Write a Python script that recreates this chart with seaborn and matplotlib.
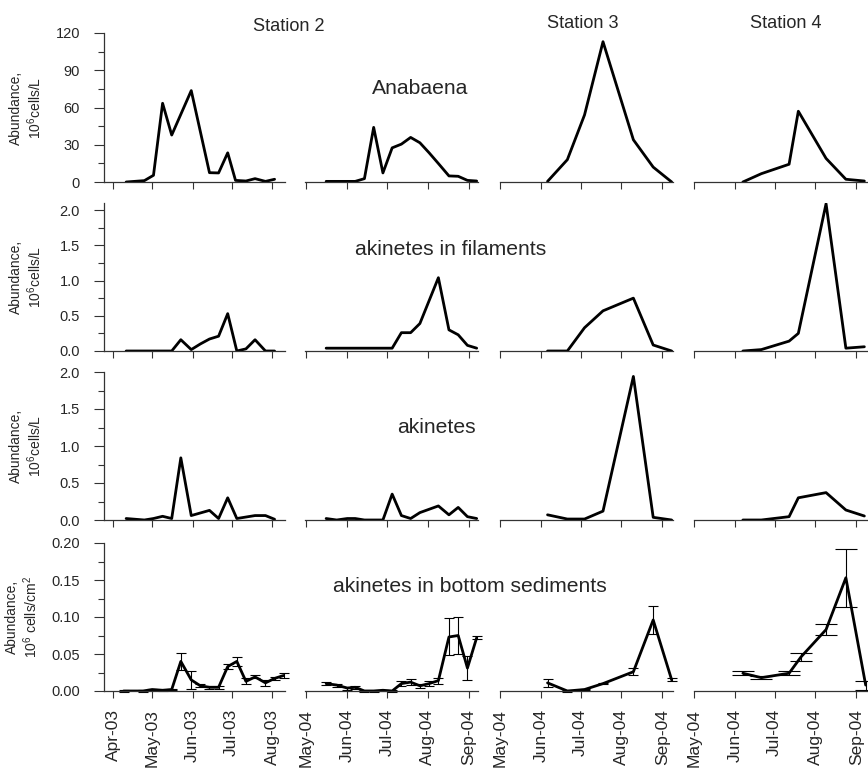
import numpy as np
import pandas as pd
import matplotlib
matplotlib.use("Agg")
import matplotlib.pyplot as plt
import matplotlib.dates as mdates
from matplotlib.ticker import MultipleLocator, FormatStrFormatter
import seaborn as sns

# ---- data (10^6 cells/L, sediments 10^6 cells/cm2) ----
# Station 2, 2003
st2_03_ana_dates = ["2003-04-11", "2003-04-25", "2003-05-02", "2003-05-09", "2003-05-16",
                    "2003-05-31", "2003-06-14", "2003-06-21", "2003-06-28", "2003-07-04",
                    "2003-07-12", "2003-07-19", "2003-07-27", "2003-08-03"]
st2_03_ana = [0, 1.1, 5.4, 63.4, 37.8, 73.6, 7.5, 7.3, 23.5, 1.3, 0.8, 2.7, 0.5, 2.2]

st2_03_fil_dates = ["2003-04-11", "2003-05-16", "2003-05-23", "2003-05-31", "2003-06-07",
                    "2003-06-14", "2003-06-21", "2003-06-28", "2003-07-05", "2003-07-12",
                    "2003-07-19", "2003-07-27", "2003-08-03"]
st2_03_fil = [0, 0, 0.16, 0.02, 0.10, 0.17, 0.21, 0.53, 0.0, 0.03, 0.16, 0, 0]

st2_03_aki_dates = ["2003-04-11", "2003-04-25", "2003-05-02", "2003-05-09", "2003-05-16",
                    "2003-05-23", "2003-05-31", "2003-06-14", "2003-06-21", "2003-06-28",
                    "2003-07-05", "2003-07-12", "2003-07-19", "2003-07-27", "2003-08-03"]
st2_03_aki = [0.02, 0.0, 0.02, 0.05, 0.02, 0.84, 0.06, 0.13, 0.02, 0.30, 0.02, 0.04,
              0.06, 0.06, 0.01]

st2_03_sed_dates = ["2003-04-09", "2003-04-24", "2003-05-01", "2003-05-09", "2003-05-16",
                    "2003-05-23", "2003-05-31", "2003-06-07", "2003-06-14", "2003-06-21",
                    "2003-06-28", "2003-07-05", "2003-07-12", "2003-07-19", "2003-07-27",
                    "2003-08-03", "2003-08-10"]
st2_03_sed = [0.0, 0.0, 0.002, 0.001, 0.002, 0.040, 0.015, 0.007, 0.005, 0.005, 0.033,
              0.040, 0.013, 0.019, 0.011, 0.017, 0.021]
st2_03_sed_err = [0.001, 0.001, 0.001, 0.001, 0.001, 0.012, 0.012, 0.002, 0.002, 0.002,
                  0.003, 0.006, 0.004, 0.002, 0.004, 0.002, 0.003]

# Station 2, 2004
st2_04_ana_dates = ["2004-05-16", "2004-06-07", "2004-06-14", "2004-06-21", "2004-06-28",
                    "2004-07-05", "2004-07-12", "2004-07-19", "2004-07-26", "2004-08-02",
                    "2004-08-09", "2004-08-17", "2004-08-24", "2004-08-31", "2004-09-07"]
st2_04_ana = [0.5, 0.5, 2.7, 44.0, 7.3, 27.5, 30.5, 35.9, 31.6, 23.5, 14.9, 4.9, 4.6, 1.3, 0.8]

st2_04_fil_dates = ["2004-05-16", "2004-07-05", "2004-07-12", "2004-07-19", "2004-07-26",
                    "2004-08-09", "2004-08-17", "2004-08-24", "2004-08-31", "2004-09-07"]
st2_04_fil = [0.04, 0.04, 0.26, 0.26, 0.39, 1.04, 0.30, 0.23, 0.08, 0.04]

st2_04_dates = ["2004-05-16", "2004-05-24", "2004-06-01", "2004-06-07", "2004-06-14",
                "2004-06-21", "2004-06-28", "2004-07-05", "2004-07-12", "2004-07-19",
                "2004-07-26", "2004-08-02", "2004-08-09", "2004-08-17", "2004-08-24",
                "2004-08-31", "2004-09-07"]
st2_04_aki = [0.02, 0.0, 0.02, 0.02, 0.0, 0.0, 0.0, 0.35, 0.06, 0.02, 0.10, 0.145, 0.19,
              0.07, 0.17, 0.045, 0.02]
st2_04_sed = [0.010, 0.008, 0.004, 0.005, 0.0, 0.0, 0.001, 0.0, 0.010, 0.012, 0.007,
              0.010, 0.014, 0.073, 0.075, 0.031, 0.072]
st2_04_sed_err = [0.002, 0.002, 0.002, 0.002, 0.001, 0.001, 0.001, 0.001, 0.003, 0.004,
                  0.003, 0.003, 0.004, 0.025, 0.025, 0.016, 0.002]

# Station 3, 2004
st3_dates = ["2004-06-06", "2004-06-21", "2004-07-04", "2004-07-18", "2004-08-10",
             "2004-08-25", "2004-09-08"]
st3_ana = [0.5, 18, 54, 113, 34, 12, 0]
st3_fil = [0, 0, 0.33, 0.57, 0.75, 0.085, 0]
st3_aki = [0.07, 0.013, 0.013, 0.12, 1.94, 0.036, 0]
st3_sed = [0.011, 0.0, 0.002, 0.010, 0.026, 0.096, 0.015]
st3_sed_err = [0.005, 0.001, 0.001, 0.001, 0.005, 0.019, 0.002]

# Station 4, 2004
st4_dates = ["2004-06-07", "2004-06-21", "2004-07-12", "2004-07-19", "2004-08-09",
             "2004-08-24", "2004-09-07"]
st4_ana = [0, 6.7, 14.3, 57, 19, 2.2, 0.8]
st4_fil = [0, 0.02, 0.14, 0.25, 2.09, 0.04, 0.06]
st4_aki = [0, 0, 0.045, 0.30, 0.37, 0.135, 0.054]
st4_sed_dates = ["2004-06-07", "2004-06-21", "2004-07-12", "2004-07-21", "2004-08-09",
                 "2004-08-24", "2004-09-08"]
st4_sed = [0.024, 0.018, 0.024, 0.046, 0.083, 0.153, 0.008]
st4_sed_err = [0.003, 0.002, 0.003, 0.006, 0.007, 0.039, 0.006]

station_names = ["Station 2", "Station 3", "Station 4"]
panel_names = ["Anabaena", "akinetes in filaments", "akinetes", "akinetes in bottom sediments"]
ylabels = ["Abundance,\n10$^6$cells/L", "Abundance,\n10$^6$cells/L",
           "Abundance,\n10$^6$cells/L", "Abundance,\n10$^6$ cells/cm$^2$"]

# ---- style ----
sns.set_style("ticks")
plt.rcParams["font.family"] = ["Liberation Sans", "DejaVu Sans"]
plt.rcParams["mathtext.default"] = "regular"

panels = [
    [(st2_03_ana_dates, st2_03_ana, None), (st2_04_ana_dates, st2_04_ana, None),
     (st3_dates, st3_ana, None), (st4_dates, st4_ana, None)],
    [(st2_03_fil_dates, st2_03_fil, None), (st2_04_fil_dates, st2_04_fil, None),
     (st3_dates, st3_fil, None), (st4_dates, st4_fil, None)],
    [(st2_03_aki_dates, st2_03_aki, None), (st2_04_dates, st2_04_aki, None),
     (st3_dates, st3_aki, None), (st4_dates, st4_aki, None)],
    [(st2_03_sed_dates, st2_03_sed, st2_03_sed_err), (st2_04_dates, st2_04_sed, st2_04_sed_err),
     (st3_dates, st3_sed, st3_sed_err), (st4_sed_dates, st4_sed, st4_sed_err)],
]

W, H = 868, 769
col_px = [(104, 181), (305, 173), (500, 173), (694, 173)]   # left, width
row_px = [(33, 182), (203, 351), (372, 520), (543, 691)]    # top, bottom
xlims = [("2003-03-25", "2003-08-11"), ("2004-04-30", "2004-09-08"),
         ("2004-05-01", "2004-09-09"), ("2004-05-01", "2004-09-09")]
ylims = [(0, 120), (0, 2.1), (0, 2.0), (0, 0.20)]
ymajor = [30, 0.5, 0.5, 0.05]
yfmt = ["%d", "%.1f", "%.1f", "%.2f"]
capsizes = [3.6, 3.6, 3.6, 7.8]
ylab_x = [-0.33, -0.33, -0.33, -0.355]

fig = plt.figure(figsize=(W / 100, H / 100), dpi=100)

for r in range(4):
    top, bot = row_px[r]
    for c in range(4):
        left, width = col_px[c]
        ax = fig.add_axes([left / W, 1 - bot / H, width / W, (bot - top) / H])
        dates, vals, errs = panels[r][c]
        d = pd.to_datetime(pd.Series(dates))
        sns.lineplot(x=d, y=vals, ax=ax, color="black", lw=2.0)
        if errs is not None:
            ax.errorbar(d, vals, yerr=errs, fmt="none", ecolor="black",
                        elinewidth=0.8, capsize=capsizes[c], capthick=0.8,
                        clip_on=False)

        ax.set_xlim(pd.Timestamp(xlims[c][0]), pd.Timestamp(xlims[c][1]))
        ax.set_ylim(*ylims[r])
        ax.xaxis.set_major_locator(mdates.MonthLocator())
        ax.xaxis.set_major_formatter(mdates.DateFormatter("%b-%y"))
        ax.tick_params(axis="x", direction="out", length=5, width=0.8,
                       color="#333333", labelsize=12.5, pad=8, rotation=90)
        if r < 3:
            ax.tick_params(axis="x", labelbottom=False)
        ax.set_xlabel("")

        ax.spines["top"].set_visible(False)
        ax.spines["right"].set_visible(False)
        ax.spines["bottom"].set_color("#333333")
        ax.spines["bottom"].set_linewidth(0.9)
        if c == 0:
            ax.spines["left"].set_color("#333333")
            ax.spines["left"].set_linewidth(0.9)
            ax.yaxis.set_major_locator(MultipleLocator(ymajor[r]))
            ax.yaxis.set_minor_locator(MultipleLocator(ymajor[r] / 2))
            ax.yaxis.set_major_formatter(FormatStrFormatter(yfmt[r]))
            ax.tick_params(axis="y", which="major", direction="out", length=7.2,
                           width=0.8, color="#333333", labelsize=10.5, pad=10)
            ax.tick_params(axis="y", which="minor", direction="out", length=4.3,
                           width=0.8, color="#333333")
            ax.set_ylabel(ylabels[r], fontsize=10, linespacing=1.15)
            ax.yaxis.set_label_coords(ylab_x[r], 0.5)
        else:
            ax.spines["left"].set_visible(False)
            ax.tick_params(axis="y", which="both", left=False, labelleft=False)
            ax.set_ylabel("")

# station titles
fig.text(253 / W, 1 - 31 / H, station_names[0], fontsize=13.1, ha="left", va="baseline")
fig.text(547 / W, 1 - 28 / H, station_names[1], fontsize=13.1, ha="left", va="baseline")
fig.text(750 / W, 1 - 28 / H, station_names[2], fontsize=13.1, ha="left", va="baseline")

# panel titles
label_pos = [(372, 94), (355, 255), (397, 433), (333, 592)]
for name, (x, y) in zip(panel_names, label_pos):
    fig.text(x / W, 1 - y / H, name, fontsize=15.2, ha="left", va="baseline")

fig.savefig("out.png", dpi=100)
